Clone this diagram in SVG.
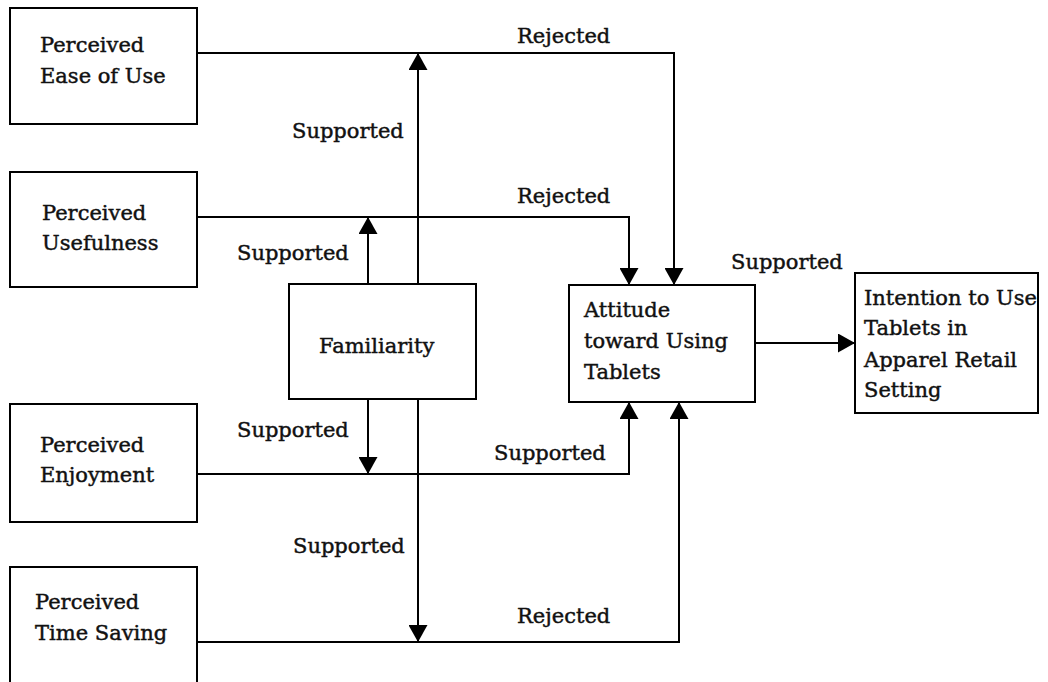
<svg xmlns="http://www.w3.org/2000/svg" width="1048" height="682" viewBox="0 0 1048 682">
<defs>
<marker id="arr" markerUnits="userSpaceOnUse" markerWidth="18" markerHeight="19" refX="17" refY="9.5" orient="auto">
<path d="M0,0 L17,9.5 L0,19 z" fill="#000"/>
</marker>
</defs>
<style>
.box{fill:#fff;stroke:#000;stroke-width:2}
.t{font-family:"DejaVu Serif","Liberation Serif",serif;font-size:21px;fill:#111;stroke:#111;stroke-width:0.45}
.c{fill:none;stroke:#000;stroke-width:2}
.a{marker-end:url(#arr)}
</style>
<rect width="1048" height="682" fill="#fff"/>
<g id="peou">
<rect class="box" x="10" y="8" width="187" height="116"/>
<text class="t" x="40" y="52">Perceived</text>
<text class="t" x="40" y="83">Ease of Use</text>
</g>
<g id="pu">
<rect class="box" x="10" y="172" width="187" height="115"/>
<text class="t" x="42" y="220">Perceived</text>
<text class="t" x="42" y="250">Usefulness</text>
</g>
<g id="familiarity">
<rect class="box" x="289" y="284" width="187" height="115"/>
<text class="t" x="319" y="353">Familiarity</text>
</g>
<g id="pe">
<rect class="box" x="10" y="404" width="187" height="118"/>
<text class="t" x="40" y="452">Perceived</text>
<text class="t" x="40" y="482">Enjoyment</text>
</g>
<g id="pts">
<rect class="box" x="10" y="567" width="187" height="130"/>
<text class="t" x="35" y="609">Perceived</text>
<text class="t" x="35" y="640">Time Saving</text>
</g>
<g id="attitude">
<rect class="box" x="569" y="285" width="186" height="117"/>
<text class="t" x="584" y="317">Attitude</text>
<text class="t" x="584" y="348">toward Using</text>
<text class="t" x="584" y="379">Tablets</text>
</g>
<g id="intention">
<rect class="box" x="855" y="273" width="183" height="140"/>
<text class="t" x="864" y="305">Intention to Use</text>
<text class="t" x="864" y="335">Tablets in</text>
<text class="t" x="864" y="367">Apparel Retail</text>
<text class="t" x="864" y="397">Setting</text>
</g>
<g id="connectors">
<path class="c a" d="M197,53 H674 V285"/>
<path class="c a" d="M197,217 H629 V285"/>
<path class="c a" d="M418,284 V53"/>
<path class="c a" d="M368,284 V217"/>
<path class="c a" d="M368,399 V474"/>
<path class="c a" d="M418,399 V642"/>
<path class="c a" d="M197,474 H629 V402"/>
<path class="c a" d="M197,642 H679 V402"/>
<path class="c a" d="M755,343 H855"/>
</g>
<g id="labels">
<text class="t" x="517" y="43">Rejected</text>
<text class="t" x="292" y="138">Supported</text>
<text class="t" x="517" y="203">Rejected</text>
<text class="t" x="237" y="260">Supported</text>
<text class="t" x="731" y="269">Supported</text>
<text class="t" x="237" y="437">Supported</text>
<text class="t" x="494" y="460">Supported</text>
<text class="t" x="293" y="553">Supported</text>
<text class="t" x="517" y="623">Rejected</text>
</g>
</svg>
